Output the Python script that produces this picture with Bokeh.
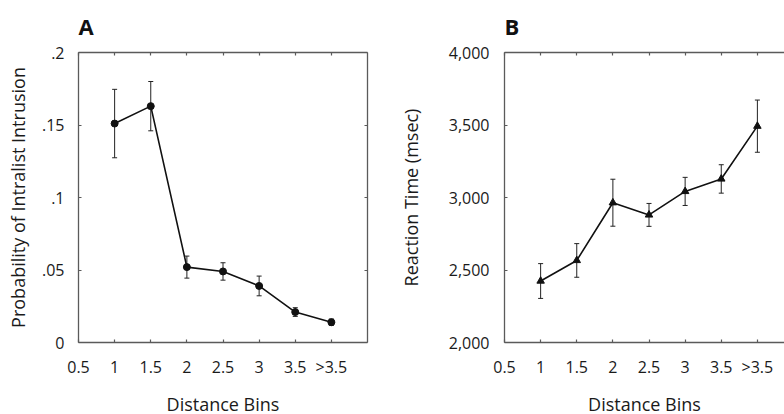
from bokeh.plotting import figure
from bokeh.models import (ColumnDataSource, Whisker, TeeHead, FixedTicker, LinearAxis,
                          Range1d, Title, NumeralTickFormatter, CustomLabelingPolicy)
from bokeh.layouts import row
from bokeh.embed import file_html
from bokeh.resources import INLINE

# ---- data ----
tick_labels = ["0.5", "1", "1.5", "2", "2.5", "3", "3.5", ">3.5"]
categories = ["1", "1.5", "2", "2.5", "3", "3.5", ">3.5"]

intrusion_prob = [0.151, 0.163, 0.052, 0.049, 0.039, 0.021, 0.014]
intrusion_err = [0.0236, 0.017, 0.0076, 0.006, 0.0068, 0.003, 0.0022]

reaction_time = [2424, 2566, 2964, 2880, 3042, 3128, 3492]
reaction_err = [120, 116, 162, 79, 97, 98, 180]

prob_ticks = [0, 0.05, 0.1, 0.15, 0.2]
prob_tick_labels = ["0", ".05", ".1", ".15", ".2"]
rt_ticks = [2000, 2500, 3000, 3500, 4000]

FONT = "Open Sans"
FRAME = "#5a5a5a"
TEXT = "#1a1a1a"

tick_pos = list(range(len(tick_labels)))
x_pos = [tick_labels.index(c) for c in categories]


def style_axis(ax, show_labels=True):
    ax.axis_line_color = FRAME
    ax.axis_line_width = 1.3
    ax.major_tick_in = 3
    ax.major_tick_out = 0
    ax.major_tick_line_color = FRAME
    ax.major_tick_line_width = 1.2
    ax.minor_tick_line_color = None
    ax.major_label_text_font = FONT
    ax.major_label_text_color = TEXT
    ax.axis_label_text_font = FONT
    ax.axis_label_text_font_style = "normal"
    ax.axis_label_text_font_size = "18px"
    ax.axis_label_text_color = TEXT
    if show_labels:
        ax.major_label_text_font_size = "16px"
    else:
        ax.major_label_policy = CustomLabelingPolicy(code="return []")
        ax.major_label_text_font_size = "1px"
        ax.major_label_standoff = 0
        ax.axis_label_standoff = 0


def make_panel(letter, y, err, y_range, yticks, ylabel, marker, width, border_left,
               border_right, x_end, right_axis, ytick_standoff, ylab_standoff,
               ytick_overrides=None, yformatter=None):
    p = figure(width=width, height=418, output_backend="svg", toolbar_location=None,
               x_range=Range1d(0, x_end), y_range=Range1d(*y_range),
               min_border_left=border_left, min_border_right=border_right,
               min_border_top=52, min_border_bottom=75,
               x_axis_location=None, y_axis_location=None)
    p.outline_line_color = None
    p.grid.visible = False
    p.background_fill_color = "white"
    p.border_fill_color = "white"

    bottom = LinearAxis(ticker=FixedTicker(ticks=tick_pos),
                        major_label_overrides={i: t for i, t in enumerate(tick_labels)},
                        axis_label="Distance Bins")
    style_axis(bottom)
    bottom.major_label_standoff = 13
    bottom.axis_label_standoff = 11
    p.add_layout(bottom, "below")

    top = LinearAxis(ticker=FixedTicker(ticks=tick_pos))
    style_axis(top, show_labels=False)
    p.add_layout(top, "above")

    left = LinearAxis(ticker=FixedTicker(ticks=yticks), axis_label=ylabel)
    if ytick_overrides:
        left.major_label_overrides = ytick_overrides
    if yformatter is not None:
        left.formatter = yformatter
    style_axis(left)
    left.major_label_standoff = ytick_standoff
    left.axis_label_standoff = ylab_standoff
    p.add_layout(left, "left")

    if right_axis:
        right = LinearAxis(ticker=FixedTicker(ticks=yticks))
        style_axis(right, show_labels=False)
        p.add_layout(right, "right")

    src = ColumnDataSource(dict(x=x_pos, y=y,
                                lo=[a - b for a, b in zip(y, err)],
                                hi=[a + b for a, b in zip(y, err)]))
    w = Whisker(source=src, base="x", lower="lo", upper="hi",
                line_color="#222222", line_width=1,
                upper_head=TeeHead(size=5, line_color="#222222", line_width=1),
                lower_head=TeeHead(size=5, line_color="#222222", line_width=1))
    p.add_layout(w)
    p.line("x", "y", source=src, line_color="#111111", line_width=1.6)
    if marker == "circle":
        p.scatter("x", "y", source=src, marker="circle", size=7,
                  fill_color="#111111", line_color="#111111")
    else:
        p.scatter("x", "y", source=src, marker="triangle", size=7.5,
                  fill_color="#111111", line_color="#111111")

    t = Title(text=letter, align="left", text_font=FONT, text_font_size="22px",
              text_font_style="bold", text_color="#111111", offset=0, standoff=14)
    p.add_layout(t, "above")
    return p


pa = make_panel("A", intrusion_prob, intrusion_err, (0, 0.2), prob_ticks,
                "Probability of Intralist Intrusion", "circle",
                width=392, border_left=78, border_right=25, x_end=8, right_axis=True,
                ytick_standoff=14, ylab_standoff=9,
                ytick_overrides={t: l for t, l in zip(prob_ticks, prob_tick_labels)})

pb = make_panel("B", reaction_time, reaction_err, (2000, 4000), rt_ticks,
                "Reaction Time (msec)", "triangle",
                width=392, border_left=112, border_right=0, x_end=280 / 36.125,
                right_axis=False, ytick_standoff=15, ylab_standoff=23,
                yformatter=NumeralTickFormatter(format="0,0"))

layout = row(pa, pb)
open("out.html", "w").write(file_html(layout, INLINE))
